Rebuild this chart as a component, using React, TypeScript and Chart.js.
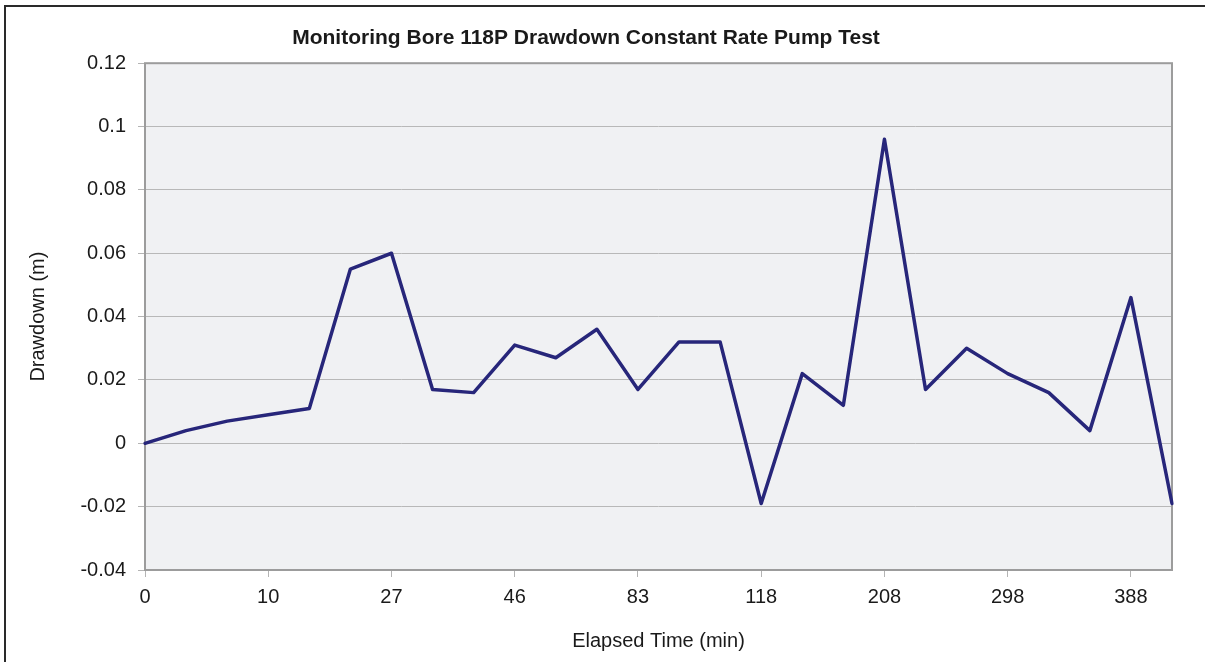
import React, { useEffect, useRef } from "react";
import { Chart, registerables } from "chart.js";

Chart.register(...registerables);

// Elapsed time (min) categories; only every third one is labelled on the axis
const elapsedTimes = [
  "0", "3", "6", "10", "15", "20", "27", "33", "40", "46", "58", "70", "83",
  "95", "106", "118", "148", "178", "208", "238", "268", "298", "328", "358", "388", "418",
];
// Drawdown (m)
const drawdown = [
  0, 0.004, 0.007, 0.009, 0.011, 0.055, 0.06, 0.017, 0.016, 0.031, 0.027, 0.036, 0.017,
  0.032, 0.032, -0.019, 0.022, 0.012, 0.096, 0.017, 0.03, 0.022, 0.016, 0.004, 0.046, -0.019,
];
const labelEvery = 3;
const yMin = -0.04;
const yMax = 0.12;
const yStep = 0.02;

const chartTitle = "Monitoring Bore 118P Drawdown Constant Rate Pump Test";
const xTitle = "Elapsed Time (min)";
const yTitle = "Drawdown (m)";

const FONT = "'Liberation Sans', Arial, Helvetica, sans-serif";

const plotFrame = {
  id: "plotFrame",
  beforeDraw(chart: any) {
    const { ctx, chartArea } = chart;
    ctx.save();
    ctx.fillStyle = "#F0F1F3";
    ctx.fillRect(chartArea.left, chartArea.top, chartArea.right - chartArea.left, chartArea.bottom - chartArea.top);
    ctx.restore();
  },
  beforeDatasetsDraw(chart: any) {
    const { ctx, chartArea } = chart;
    ctx.save();
    ctx.strokeStyle = "#9C9C9C";
    ctx.lineWidth = 2;
    ctx.strokeRect(chartArea.left, chartArea.top, chartArea.right - chartArea.left, chartArea.bottom - chartArea.top);
    ctx.restore();
  },
};

export default function App() {
  const canvasRef = useRef<HTMLCanvasElement | null>(null);

  useEffect(() => {
    document.body.style.margin = "0";
    const canvas = canvasRef.current;
    if (!canvas) return;
    const chart = new Chart(canvas, {
      type: "line",
      data: {
        labels: elapsedTimes,
        datasets: [
          {
            label: yTitle,
            data: drawdown,
            borderColor: "#27267A",
            borderWidth: 3.5,
            borderJoinStyle: "round",
            borderCapStyle: "round",
            pointRadius: 0,
            tension: 0,
            fill: false,
          },
        ],
      },
      options: {
        responsive: false,
        animation: false,
        devicePixelRatio: 1,
        layout: { padding: { left: 0, right: 33, top: 0, bottom: 0 } },
        plugins: {
          legend: { display: false },
          tooltip: { enabled: false },
          title: {
            display: true,
            text: chartTitle,
            color: "#1A1A1A",
            font: { family: FONT, size: 21, weight: "bold" },
            padding: { top: 26, bottom: 12 },
          },
        },
        scales: {
          x: {
            type: "category",
            offset: false,
            afterBuildTicks: (scale: any) => {
              scale.ticks = scale.ticks.filter((t: any) => t.value % labelEvery === 0);
            },
            afterFit: (scale: any) => {
              scale.height = 92;
            },
            grid: {
              drawOnChartArea: false,
              drawTicks: true,
              tickLength: 7,
              tickColor: "#B4B4B4",
            },
            border: { display: false },
            ticks: {
              autoSkip: false,
              maxRotation: 0,
              padding: 8,
              color: "#1A1A1A",
              font: { family: FONT, size: 20 },
            },
            title: {
              display: true,
              text: xTitle,
              color: "#1A1A1A",
              font: { family: FONT, size: 20 },
              padding: { top: 0, bottom: 9 },
            },
          },
          y: {
            min: yMin,
            max: yMax,
            afterFit: (scale: any) => {
              scale.width = 145;
            },
            grid: {
              color: "#B8B8B8",
              lineWidth: 1,
              drawTicks: true,
              tickLength: 7,
              tickColor: "#B4B4B4",
            },
            border: { display: false },
            ticks: {
              stepSize: yStep,
              padding: 12,
              color: "#1A1A1A",
              font: { family: FONT, size: 20 },
              callback: (v: any) => {
                const n = Number(v);
                if (Math.abs(n) < 1e-9) return "0";
                return String(parseFloat(n.toFixed(2)));
              },
            },
            title: {
              display: true,
              text: yTitle,
              color: "#1A1A1A",
              font: { family: FONT, size: 20 },
              padding: { top: 26, bottom: 0 },
            },
          },
        },
      },
      plugins: [plotFrame],
    });
    return () => chart.destroy();
  }, []);

  return (
    <div style={{ position: "relative", width: 1205, height: 662, overflow: "hidden", background: "#FFFFFF" }}>
      <canvas ref={canvasRef} width={1205} height={662} style={{ display: "block" }} />
      <div
        style={{
          position: "absolute",
          left: 4,
          top: 5,
          width: 1400,
          height: 900,
          borderLeft: "2px solid #2A2A2A",
          borderTop: "2px solid #2A2A2A",
          pointerEvents: "none",
        }}
      />
    </div>
  );
}
